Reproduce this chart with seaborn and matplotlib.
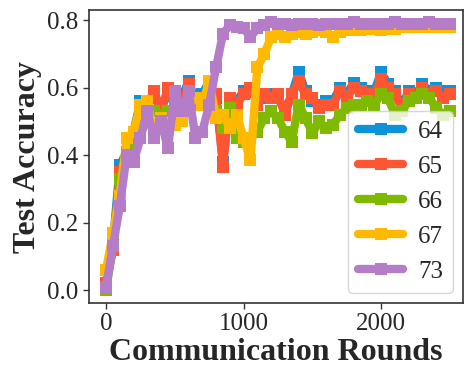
import matplotlib
matplotlib.use("Agg")
import matplotlib.pyplot as plt
import numpy as np
import pandas as pd
import seaborn as sns

rounds = list(range(0, 2501, 50))

acc_64 = [0.01, 0.14, 0.37, 0.41, 0.47, 0.56, 0.56, 0.57, 0.54, 0.58,
          0.56, 0.57, 0.62, 0.56, 0.58, 0.62, 0.57, 0.38, 0.56, 0.56,
          0.59, 0.59, 0.56, 0.57, 0.58, 0.57, 0.53, 0.58, 0.645, 0.59,
          0.56, 0.55, 0.56, 0.56, 0.60, 0.58, 0.615, 0.60, 0.59, 0.59,
          0.645, 0.61, 0.59, 0.545, 0.59, 0.58, 0.61, 0.59, 0.60, 0.59,
          0.59]
acc_65 = [0.02, 0.12, 0.35, 0.40, 0.46, 0.53, 0.55, 0.59, 0.53, 0.60,
          0.57, 0.55, 0.61, 0.55, 0.57, 0.60, 0.58, 0.365, 0.57, 0.55,
          0.58, 0.60, 0.55, 0.58, 0.57, 0.58, 0.52, 0.58, 0.62, 0.58,
          0.57, 0.54, 0.55, 0.55, 0.59, 0.57, 0.60, 0.59, 0.58, 0.58,
          0.625, 0.60, 0.58, 0.54, 0.58, 0.57, 0.60, 0.58, 0.59, 0.57,
          0.58]
acc_66 = [0.00, 0.13, 0.33, 0.39, 0.45, 0.52, 0.54, 0.53, 0.52, 0.53,
          0.52, 0.54, 0.58, 0.55, 0.55, 0.56, 0.53, 0.48, 0.54, 0.45,
          0.44, 0.45, 0.47, 0.51, 0.53, 0.51, 0.47, 0.44, 0.55, 0.51,
          0.465, 0.50, 0.48, 0.49, 0.52, 0.54, 0.55, 0.55, 0.56, 0.55,
          0.58, 0.57, 0.52, 0.53, 0.56, 0.57, 0.58, 0.57, 0.54, 0.52,
          0.53]
acc_67 = [0.06, 0.17, 0.28, 0.45, 0.47, 0.55, 0.56, 0.45, 0.51, 0.49,
          0.49, 0.50, 0.57, 0.57, 0.55, 0.62, 0.51, 0.52, 0.48, 0.52,
          0.45, 0.385, 0.66, 0.70, 0.75, 0.76, 0.75, 0.76, 0.765, 0.76,
          0.765, 0.77, 0.765, 0.75, 0.765, 0.77, 0.77, 0.77, 0.775, 0.775,
          0.77, 0.775, 0.775, 0.78, 0.78, 0.78, 0.78, 0.78, 0.78, 0.78,
          0.78]
acc_73 = [0.01, 0.13, 0.25, 0.40, 0.38, 0.45, 0.53, 0.45, 0.50, 0.42,
          0.59, 0.53, 0.59, 0.45, 0.47, 0.55, 0.66, 0.76, 0.785, 0.78,
          0.776, 0.75, 0.776, 0.785, 0.795, 0.79, 0.79, 0.785, 0.79, 0.79,
          0.79, 0.785, 0.79, 0.79, 0.79, 0.79, 0.795, 0.79, 0.79, 0.79,
          0.79, 0.79, 0.795, 0.79, 0.79, 0.79, 0.79, 0.795, 0.79, 0.79,
          0.79]

labels = ["64", "65", "66", "67", "73"]
series = [acc_64, acc_65, acc_66, acc_67, acc_73]
colors = ["#0C93D8", "#FF5533", "#80BA00", "#FFB900", "#B57DC8"]

sns.set_theme(style="ticks")
plt.rcParams["font.family"] = ["Liberation Serif", "DejaVu Serif"]

fig, ax = plt.subplots(figsize=(4.76, 3.86), dpi=100)
fig.subplots_adjust(left=0.187, right=0.973, top=0.974, bottom=0.215)

for lab, vals, col in zip(labels, series, colors):
    df = pd.DataFrame({"Round": rounds, "Acc": vals})
    sns.lineplot(data=df, x="Round", y="Acc", ax=ax, color=col, linewidth=6,
                 marker="s", markersize=8, markeredgewidth=0, label=lab)

ax.set_xlim(-124, 2596)
ax.set_ylim(-0.038, 0.83)
ax.set_xticks([0, 1000, 2000])
ax.set_yticks([0.0, 0.2, 0.4, 0.6, 0.8])
ax.set_yticklabels(["0.0", "0.2", "0.4", "0.6", "0.8"])
ax.tick_params(labelsize=18, length=4, width=1, color="#333333")
for s in ax.spines.values():
    s.set_color("#333333")
    s.set_linewidth(1.2)

ax.set_xlabel("Communication Rounds", fontsize=23, fontweight="bold", labelpad=2)
ax.set_ylabel("Test Accuracy", fontsize=23, fontweight="bold", labelpad=4)

ax.legend(loc="lower right", fontsize=18, framealpha=0.8, handlelength=1.8,
          handletextpad=0.6, borderpad=0.4, borderaxespad=0.4)

fig.savefig("out.png", dpi=100)
